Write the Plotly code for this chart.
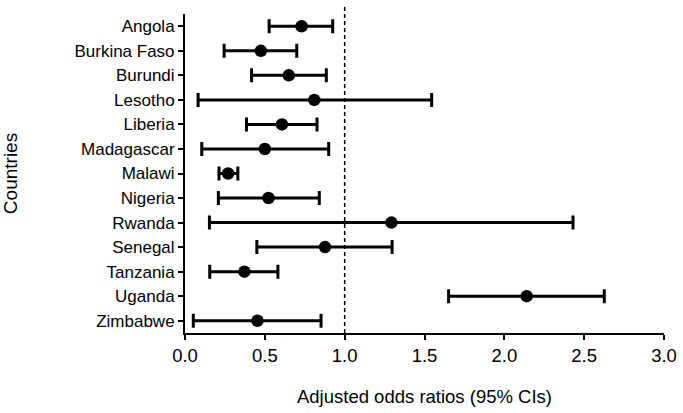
import plotly.graph_objects as go

countries = ["Angola", "Burkina Faso", "Burundi", "Lesotho", "Liberia", "Madagascar",
             "Malawi", "Nigeria", "Rwanda", "Senegal", "Tanzania", "Uganda", "Zimbabwe"]
aor = [0.73, 0.475, 0.65, 0.81, 0.607, 0.50, 0.27, 0.523, 1.293, 0.877, 0.372, 2.14, 0.454]
ci_low = [0.527, 0.245, 0.417, 0.082, 0.385, 0.105, 0.213, 0.209, 0.153, 0.45, 0.155, 1.651, 0.052]
ci_high = [0.925, 0.70, 0.885, 1.545, 0.827, 0.90, 0.331, 0.841, 2.43, 1.297, 0.582, 2.626, 0.852]
x_ticks = [0.0, 0.5, 1.0, 1.5, 2.0, 2.5, 3.0]
x_tick_labels = ["0.0", "0.5", "1.0", "1.5", "2.0", "2.5", "3.0"]

err_plus = [h - v for h, v in zip(ci_high, aor)]
err_minus = [v - l for v, l in zip(aor, ci_low)]

fig = go.Figure()
fig.add_trace(go.Scatter(
    x=aor, y=countries, mode="markers",
    marker=dict(color="black", size=12.5),
    error_x=dict(type="data", symmetric=False, array=err_plus, arrayminus=err_minus,
                 color="black", thickness=3, width=7),
    showlegend=False,
))

fig.add_shape(type="line", xref="x", yref="paper", x0=1, x1=1, y0=0, y1=1.03,
              line=dict(color="black", width=1.5, dash="4px,3px"))

font = "Liberation Sans, Arial, sans-serif"
fig.update_layout(
    width=683, height=413,
    margin=dict(l=185, r=19, t=14, b=80),
    paper_bgcolor="white", plot_bgcolor="white",
    font=dict(family=font, color="black"),
    xaxis=dict(range=[0, 3], tickvals=x_ticks, ticktext=x_tick_labels, automargin=False,
               showgrid=False, zeroline=False, showline=True, linecolor="black", linewidth=2,
               ticks="outside", ticklen=5, tickwidth=2, tickcolor="black",
               tickfont=dict(size=18.5),
               title=dict(text="Adjusted odds ratios (95% CIs)", font=dict(size=18.5), standoff=25)),
    yaxis=dict(categoryorder="array", categoryarray=countries[::-1], automargin=False,
               range=[-0.5, len(countries) - 0.5],
               showgrid=False, zeroline=False, showline=True, linecolor="black", linewidth=2,
               ticks="outside", ticklen=5, tickwidth=2, tickcolor="black",
               tickfont=dict(size=17),
               title=dict(text="Countries", font=dict(size=19), standoff=63)),
)

# remove the page body's default margin so the figure fills the window exactly
fig.write_html("out.html", config={"displayModeBar": False},
               post_script="document.body.style.margin='0';")
